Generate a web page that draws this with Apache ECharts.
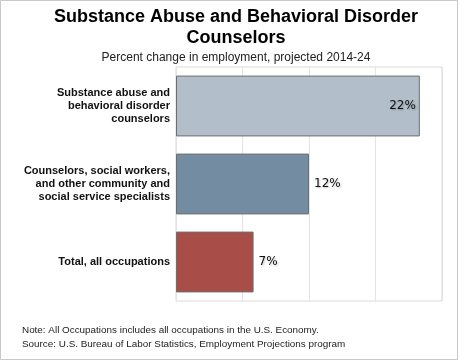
<!DOCTYPE html>
<html><head><meta charset="utf-8">
<script src="https://cdn.jsdelivr.net/npm/echarts@6/dist/echarts.min.js"></script>
<style>html,body{margin:0;padding:0;background:#fff}#c{width:458px;height:360px}</style>
</head><body><div id="c"></div>
<script>
var categories = ["Substance abuse and\nbehavioral disorder\ncounselors", "Counselors, social workers,\nand other community and\nsocial service specialists", "Total, all occupations"];
var values = [22, 12, 7];
var barColors = ["#b2bec9", "#748ca1", "#a84d47"];
var axisTicks = [0, 6, 12, 18, 24];

var chart = echarts.init(document.getElementById('c'), null, {renderer: 'canvas'});
chart.setOption({
  animation: false,
  backgroundColor: '#fff',
  graphic: [
    {type: 'rect', shape: {x: 0.5, y: 0.5, width: 457, height: 359}, style: {fill: 'none', stroke: '#c8c8c8', lineWidth: 1}, z: 100},
    {type: 'text', style: {x: 236, y: 7, text: 'Substance Abuse and Behavioral Disorder\nCounselors', font: 'bold 18px "Liberation Sans", Arial, sans-serif', fill: '#000', textAlign: 'center', lineHeight: 21}},
    {type: 'text', style: {x: 236, y: 58, text: 'Percent change in employment, projected 2014-24', font: '12px "Liberation Sans", Arial, sans-serif', fill: '#222', textAlign: 'center', textVerticalAlign: 'middle'}},
    {type: 'text', style: {x: 22, y: 330, text: 'Note: All Occupations includes all occupations in the U.S. Economy.', font: '9.9px "Liberation Sans", Arial, sans-serif', fill: '#222', textVerticalAlign: 'middle'}},
    {type: 'text', style: {x: 22, y: 344, text: 'Source: U.S. Bureau of Labor Statistics, Employment Projections program', font: '9.9px "Liberation Sans", Arial, sans-serif', fill: '#222', textVerticalAlign: 'middle'}}
  ],
  grid: {left: 176, right: 16, top: 67, bottom: 59, show: true, borderColor: '#d9d9d9', borderWidth: 1},
  xAxis: {
    type: 'value', min: axisTicks[0], max: axisTicks[axisTicks.length - 1], interval: 6,
    axisLabel: {show: false}, axisTick: {show: false}, axisLine: {show: false},
    splitLine: {lineStyle: {color: '#e3e3e3'}}
  },
  yAxis: {
    type: 'category', inverse: true, data: categories,
    axisTick: {show: false}, axisLine: {show: false},
    axisLabel: {color: '#111', fontWeight: 'bold', fontSize: 11, fontFamily: '"Liberation Sans", Arial, sans-serif', lineHeight: 13, margin: 6, align: 'right'}
  },
  series: [{
    type: 'bar', barCategoryGap: '22%',
    data: values.map(function (v, i) {
      return {
        value: v,
        itemStyle: {color: barColors[i], borderColor: '#6e6e6e', borderWidth: 1},
        label: i === 0 ? {position: 'insideRight', distance: 4} : {position: 'right', distance: 5}
      };
    }),
    label: {show: true, formatter: '{c}%', color: '#111', fontSize: 12, fontFamily: '"DejaVu Sans", sans-serif',
      textShadowColor: 'rgba(0,0,0,0.25)', textShadowBlur: 2, textShadowOffsetX: 1, textShadowOffsetY: 1}
  }]
});
</script></body></html>
